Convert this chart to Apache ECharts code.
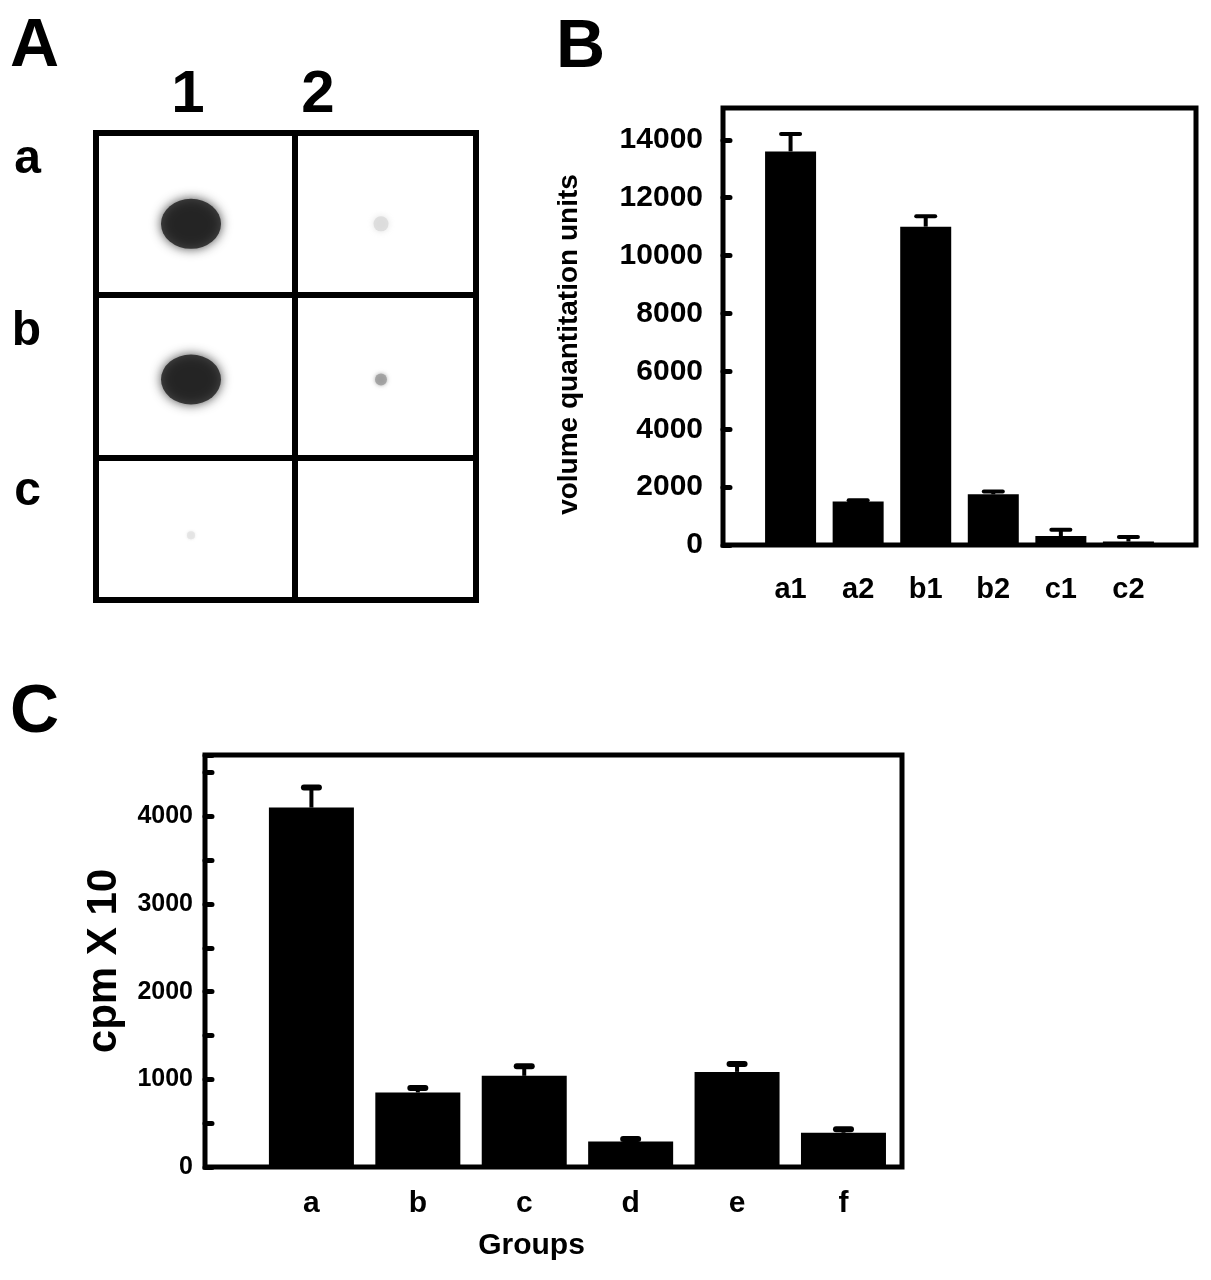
<!DOCTYPE html>
<html><head><meta charset="utf-8">
<script src="https://cdn.jsdelivr.net/npm/echarts@6/dist/echarts.min.js"></script>
<style>html,body{margin:0;padding:0;background:#fff}#chart{width:1211px;height:1280px}</style>
</head><body><div id="chart"></div>
<script>
// ---- data ----
const panelLetters = ['A', 'B', 'C'];
const blotColumns = ['1', '2'];
const blotRows = ['a', 'b', 'c'];
const volumeCategories = ['a1', 'a2', 'b1', 'b2', 'c1', 'c2'];
const volumeValues = [13600, 1500, 11000, 1750, 310, 120];
const volumeErrors = [600, 50, 360, 100, 220, 160];
const groupCategories = ['a', 'b', 'c', 'd', 'e', 'f'];
const cpmValues = [4100, 850, 1040, 290, 1085, 390];
const cpmErrors = [230, 50, 110, 30, 90, 40];
const volumeAxisName = 'volume quantitation units';
const cpmAxisName = 'cpm X 10';
const groupAxisName = 'Groups';

// ---- helpers ----
const FONT = '"Liberation Sans", Arial, Helvetica, sans-serif';
const txt = (size) => ({ color: '#000', fontSize: size, fontWeight: 'bold', fontFamily: FONT });
const plain = (v) => String(v);

function spotStyle(v) {
  if (v >= 5000) return { size: [60, 50], color: '#1b1b1b', blur: 11 };
  if (v >= 1700) return { size: 12, color: '#9a9a9a', blur: 4 };
  if (v >= 1000) return { size: 15, color: '#dadada', blur: 6 };
  if (v >= 200) return { size: 8, color: '#e2e2e2', blur: 3 };
  return { size: 0, color: 'rgba(0,0,0,0)', blur: 0 };
}

const blotData = volumeCategories.map((cat, i) => {
  const s = spotStyle(volumeValues[i]);
  return {
    value: [cat[1], cat[0], volumeValues[i]],
    symbolSize: s.size,
    itemStyle: { color: s.color, shadowBlur: s.blur, shadowColor: s.color }
  };
});

function errorRenderer(capW, capH, stemW) {
  return function (params, api) {
    const x = api.value(0), v = api.value(1), e = api.value(2);
    const p0 = api.coord([x, v]);
    const p1 = api.coord([x, v + e]);
    return {
      type: 'group', children: [
        { type: 'line', shape: { x1: p0[0], y1: p0[1], x2: p1[0], y2: p1[1] }, style: { stroke: '#000', lineWidth: stemW } },
        { type: 'line', shape: { x1: p1[0] - capW / 2, y1: p1[1], x2: p1[0] + capW / 2, y2: p1[1] }, style: { stroke: '#000', lineWidth: capH, lineCap: 'round' } }
      ]
    };
  };
}

const hidden = { axisLine: { show: false }, axisTick: { show: false }, axisLabel: { show: false } };
const tickStyle = { color: '#000', width: 5, cap: 'round' };

const chart = echarts.init(document.getElementById('chart'), null, { renderer: 'canvas' });
chart.setOption({
  animation: false,
  backgroundColor: '#fff',
  title: [
    { text: panelLetters[0], left: 10, top: 13, padding: 0, textStyle: txt(68) },
    { text: panelLetters[1], left: 556, top: 14, padding: 0, textStyle: txt(68) },
    { text: panelLetters[2], left: 10, top: 679, padding: 0, textStyle: txt(68) }
  ],
  grid: [
    { left: 96, top: 133, width: 380, height: 467, show: true, borderColor: '#000', borderWidth: 6 },
    { left: 723, top: 108, width: 473, height: 437, show: true, borderColor: '#000', borderWidth: 5 },
    { left: 205, top: 755, width: 697, height: 412, show: true, borderColor: '#000', borderWidth: 5 }
  ],
  xAxis: [
    Object.assign({ gridIndex: 0, type: 'value', min: 0, max: 1.91, interval: 1, position: 'bottom',
      splitLine: { show: true, lineStyle: { color: '#000', width: 6 } } }, hidden),
    { gridIndex: 0, type: 'category', data: blotColumns, position: 'top',
      axisLine: { show: false }, axisTick: { show: false }, splitLine: { show: false },
      axisLabel: { margin: 8, formatter: (v, i) => '{c' + i + '|' + v + '}',
        rich: { c0: Object.assign({ padding: [0, 6, 0, 0] }, txt(60)), c1: Object.assign({ padding: [0, 126, 0, 0] }, txt(60)) } } },
    { gridIndex: 1, type: 'value', min: 0, max: 7, interval: 1,
      axisLine: { show: false }, axisTick: { show: false }, splitLine: { show: false },
      axisLabel: Object.assign({ margin: 30, formatter: (v) => volumeCategories[v - 1] || '' }, txt(29)) },
    { gridIndex: 2, type: 'value', min: 0, max: 6.55, interval: 1,
      axisLine: { show: false }, axisTick: { show: false }, splitLine: { show: false },
      axisLabel: Object.assign({ margin: 22, showMaxLabel: false, formatter: (v) => groupCategories[v - 1] || '' }, txt(30)),
      name: groupAxisName, nameLocation: 'middle', nameGap: 64,
      nameTextStyle: Object.assign({ padding: [0, 44, 0, 0] }, txt(30)) }
  ],
  yAxis: [
    Object.assign({ gridIndex: 0, type: 'value', min: 0, max: 2.88, interval: 1, inverse: true, position: 'right',
      splitLine: { show: true, lineStyle: { color: '#000', width: 6 } } }, hidden),
    { gridIndex: 0, type: 'category', data: blotRows, inverse: true, position: 'left',
      axisLine: { show: false }, axisTick: { show: false }, splitLine: { show: false },
      axisLabel: { margin: 55, formatter: (v, i) => '{r' + i + '|' + v + '}',
        rich: {
          r0: Object.assign({ padding: [0, 0, 102, 0] }, txt(48)),
          r1: Object.assign({ padding: [0, 0, 69, 0] }, txt(48)),
          r2: Object.assign({ padding: [0, 0, 60, 0] }, txt(48))
        } } },
    { gridIndex: 1, type: 'value', min: 0, max: 15100, interval: 2000,
      axisLine: { show: false }, splitLine: { show: false },
      axisTick: { show: true, inside: true, length: 7, lineStyle: tickStyle },
      axisLabel: Object.assign({ margin: 20, showMaxLabel: false, formatter: plain }, txt(30)),
      name: volumeAxisName, nameLocation: 'middle', nameRotate: 90, nameGap: 140,
      nameTextStyle: Object.assign({ padding: [0, 36, 0, 0] }, txt(28)) },
    { gridIndex: 2, type: 'value', min: 0, max: 4700, interval: 1000,
      axisLine: { show: false }, splitLine: { show: false },
      axisTick: { show: true, inside: true, length: 7, lineStyle: tickStyle },
      minorTick: { show: true, splitNumber: 2, length: 7, lineStyle: tickStyle },
      axisLabel: Object.assign({ margin: 12, showMaxLabel: false, formatter: plain }, txt(25)),
      name: cpmAxisName, nameLocation: 'middle', nameRotate: 90, nameGap: 80,
      nameTextStyle: txt(42) }
  ],
  series: [
    { type: 'scatter', xAxisIndex: 1, yAxisIndex: 1, symbol: 'circle', symbolOffset: [0, 13], data: blotData, silent: true },
    { type: 'bar', xAxisIndex: 2, yAxisIndex: 2, barWidth: 51, itemStyle: { color: '#000' },
      data: volumeValues.map((v, i) => [i + 1, v]) },
    { type: 'custom', xAxisIndex: 2, yAxisIndex: 2, renderItem: errorRenderer(19, 4, 4),
      data: volumeValues.map((v, i) => [i + 1, v, volumeErrors[i]]) },
    { type: 'bar', xAxisIndex: 3, yAxisIndex: 3, barWidth: 85, itemStyle: { color: '#000' },
      data: cpmValues.map((v, i) => [i + 1, v]) },
    { type: 'custom', xAxisIndex: 3, yAxisIndex: 3, renderItem: errorRenderer(15, 6, 4),
      data: cpmValues.map((v, i) => [i + 1, v, cpmErrors[i]]) }
  ]
});
</script></body></html>
